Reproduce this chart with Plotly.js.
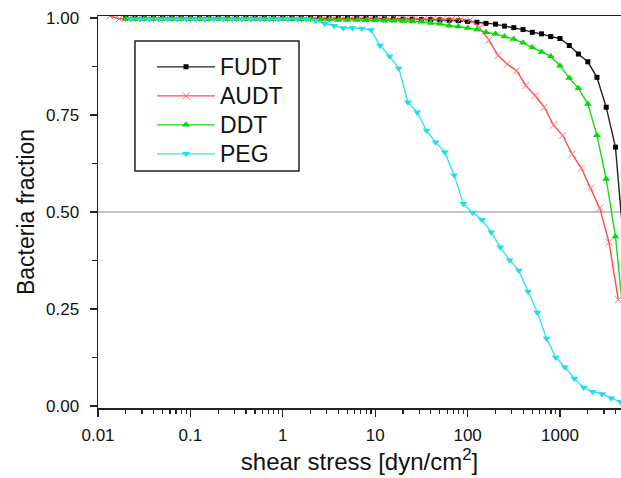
<!DOCTYPE html>
<html>
<head>
<meta charset="utf-8">
<script src="https://cdn.plot.ly/plotly-3.0.1.min.js"></script>
<style>html,body{margin:0;padding:0;background:#fff;}#chart{width:621px;height:478px;}</style>
</head>
<body>
<div id="chart"></div>
<script>
// shear stress values [dyn/cm^2] and bacteria fractions
const fudtX = [0.02, 0.0251, 0.0316, 0.0398, 0.0501, 0.0631, 0.0794,
  0.1, 0.126, 0.158, 0.2, 0.251, 0.316, 0.398, 0.501, 0.631, 0.794,
  1, 1.26, 1.58, 2, 2.51, 3.16, 3.98, 5.01, 6.31, 7.94,
  10, 12.6, 15.8, 20, 25.1, 31.6, 39.8, 50.1, 63.1, 79.4,
  100, 126, 158, 200, 251, 316, 398, 501, 631, 794,
  1000, 1260, 1580, 2000, 2510, 3160, 3980, 5010];
const fudtY = [1.0, 1.0, 1.0, 1.0, 1.0, 1.0, 1.0,
  1.0, 1.0, 1.0, 1.0, 1.0, 1.0, 1.0, 1.0, 1.0, 1.0,
  1.0, 0.999, 0.999, 0.999, 0.999, 0.999, 0.999, 0.999, 0.999, 0.999,
  0.999, 0.998, 0.998, 0.997, 0.997, 0.996, 0.996, 0.995, 0.994, 0.993,
  0.991, 0.989, 0.986, 0.984, 0.979, 0.975, 0.970, 0.963, 0.959, 0.952,
  0.947, 0.929, 0.907, 0.887, 0.847, 0.770, 0.667, 0.39];

const ddtX = fudtX;
const ddtY = [0.998, 0.998, 0.998, 0.998, 0.998, 0.998, 0.998,
  0.998, 0.998, 0.998, 0.998, 0.998, 0.998, 0.998, 0.998, 0.998, 0.998,
  0.998, 0.997, 0.997, 0.996, 0.996, 0.996, 0.995, 0.995, 0.995, 0.994,
  0.994, 0.993, 0.993, 0.992, 0.991, 0.990, 0.987, 0.985, 0.980, 0.978,
  0.974, 0.970, 0.963, 0.959, 0.952, 0.946, 0.936, 0.924, 0.912, 0.901,
  0.877, 0.845, 0.819, 0.778, 0.698, 0.585, 0.437, 0.2];

const audtX = [0.0135, 0.017, 0.0214, 0.0269, 0.0339, 0.0427, 0.0537, 0.0676, 0.0851,
  0.107, 0.135, 0.17, 0.214, 0.269, 0.339, 0.427, 0.537, 0.676, 0.851,
  1.07, 1.35, 1.7, 2.14, 2.69, 3.39, 4.27, 5.37, 6.76, 8.51,
  10.7, 13.5, 17, 21.4, 26.9, 33.9, 42.7, 53.7, 67.6, 85.1,
  107, 135, 170, 214, 269, 339, 427, 537, 676, 851,
  1070, 1350, 1700, 2140, 2690, 3390, 4270];
const audtY = [1.005, 0.998, 0.998, 0.998, 0.998, 0.998, 0.998, 0.998, 0.998,
  0.998, 0.998, 0.998, 0.998, 0.998, 0.998, 0.998, 0.998, 0.998, 0.998,
  0.998, 0.998, 0.998, 0.998, 0.998, 0.998, 0.998, 0.998, 0.998, 0.998,
  0.998, 0.998, 0.998, 0.998, 0.998, 0.998, 0.998, 0.997, 0.997, 0.997,
  0.995, 0.975, 0.943, 0.903, 0.881, 0.864, 0.826, 0.800, 0.770, 0.724,
  0.697, 0.649, 0.613, 0.562, 0.510, 0.422, 0.274];

const pegX = [0.0226, 0.0285, 0.0359, 0.0451, 0.0568, 0.0715, 0.0901,
  0.113, 0.143, 0.18, 0.226, 0.285, 0.359, 0.451, 0.568, 0.715, 0.901,
  1.13, 1.43, 1.8, 2.26, 2.85, 3.59, 4.51, 5.68, 7.15, 9.01,
  11.3, 14.3, 18, 22.6, 28.5, 35.9, 45.1, 56.8, 71.5, 90.1,
  113, 143, 180, 226, 285, 359, 451, 568, 715, 901,
  1130, 1430, 1800, 2260, 2850, 3590, 4510];
const pegY = [0.997, 0.997, 0.997, 0.997, 0.997, 0.997, 0.997,
  0.997, 0.997, 0.997, 0.997, 0.997, 0.997, 0.997, 0.997, 0.997, 0.997,
  0.997, 0.997, 0.997, 0.993, 0.985, 0.980, 0.974, 0.974, 0.973, 0.969,
  0.929, 0.901, 0.870, 0.783, 0.757, 0.710, 0.680, 0.654, 0.595, 0.521,
  0.499, 0.480, 0.448, 0.409, 0.376, 0.349, 0.295, 0.241, 0.174, 0.125,
  0.100, 0.071, 0.048, 0.037, 0.031, 0.020, 0.011];

const seriesNames = ['FUDT', 'AUDT', 'DDT', 'PEG'];
const xTickVals = [0.01, 0.1, 1, 10, 100, 1000];
const xTickText = ['0.01', '0.1', '1', '10', '100', '1000'];
const yTickVals = [0, 0.25, 0.5, 0.75, 1.0];

const minorX = [];
for (let e = -2; e <= 3; e++) for (let m = 2; m <= 9; m++) minorX.push(m * Math.pow(10, e));

const FONT = 'Liberation Sans, Arial, sans-serif';
const mk = (name, x, y, lineColor, marker) => ({
  type: 'scatter', mode: 'lines+markers',
  name: '<span style="font-size:23px">' + name + '</span>', x: x, y: y,
  line: {color: lineColor, width: 1.4}, marker: marker
});

const traces = [
  mk(seriesNames[0], fudtX, fudtY, '#222', {symbol: 'square', size: 5, color: '#000'}),
  mk(seriesNames[1], audtX, audtY, '#ff4c4c', {symbol: 'x-thin', size: 7, color: '#ff6a6a', line: {color: '#ff7070', width: 1}}),
  mk(seriesNames[2], ddtX, ddtY, '#11dd11', {symbol: 'triangle-up', size: 7, color: '#00dd00'}),
  mk(seriesNames[3], pegX, pegY, '#33e3f3', {symbol: 'triangle-down', size: 7, color: '#22dcee'})
];

const layout = {
  width: 621, height: 478,
  margin: {l: 98, r: 0, t: 16, b: 70, pad: 0},
  paper_bgcolor: '#fff', plot_bgcolor: '#fff',
  font: {family: FONT, color: '#111'},
  showlegend: true,
  legend: {
    x: 0.1033, y: 0.92, xanchor: 'left', yanchor: 'top',
    borderwidth: 0, bgcolor: 'rgba(0,0,0,0)',
    font: {family: FONT, size: 20, color: '#111'},
    itemwidth: 58
  },
  xaxis: {
    type: 'log', range: [-2, 3.66], autorange: false,
    showline: true, linecolor: '#222', linewidth: 1.5, mirror: true,
    showgrid: false, zeroline: false,
    ticks: 'outside', ticklen: 7, tickwidth: 1.3, tickcolor: '#222',
    tickmode: 'array', tickvals: xTickVals, ticktext: xTickText,
    ticklabelstandoff: 4,
    tickfont: {family: FONT, size: 17, color: '#111'},
    minor: {tickmode: 'array', tickvals: minorX, ticks: 'outside', ticklen: 4, tickwidth: 1.2, tickcolor: '#222', showgrid: false},
    title: {text: 'shear stress [dyn/cm<sup>2</sup>]', font: {family: FONT, size: 24, color: '#111'}, standoff: 8}
  },
  yaxis: {
    range: [-0.005, 1.005], autorange: false,
    showline: true, linecolor: '#222', linewidth: 1.5, mirror: false,
    showgrid: false, zeroline: false,
    ticks: 'outside', ticklen: 7, tickwidth: 1.3, tickcolor: '#222',
    tickmode: 'array', tickvals: yTickVals, tickformat: '.2f',
    ticklabelstandoff: 7,
    tickfont: {family: FONT, size: 17, color: '#111'},
    minor: {tickmode: 'array', tickvals: [0.125, 0.375, 0.625, 0.875], ticks: 'outside', ticklen: 5, tickwidth: 1.2, tickcolor: '#222', showgrid: false},
    title: {text: 'Bacteria fraction', font: {family: FONT, size: 23, color: '#111'}, standoff: 5}
  },
  shapes: [
    {type: 'line', xref: 'paper', x0: 0, x1: 1, yref: 'y', y0: 0.5, y1: 0.5, line: {color: '#888', width: 1.2}, layer: 'below'},
    {type: 'rect', xref: 'paper', yref: 'paper', x0: 0.0707, x1: 0.3843, y0: 0.6046, y1: 0.9362, line: {color: '#222', width: 1.5}, fillcolor: '#fff', layer: 'above'}
  ]
};

Plotly.newPlot('chart', traces, layout, {staticPlot: true, displayModeBar: false}).then(() => {
  // keep legend entries on top of the white legend box
  const lg = document.querySelector('.legend');
  if (lg && lg.parentNode) lg.parentNode.appendChild(lg);
});
</script>
</body>
</html>
